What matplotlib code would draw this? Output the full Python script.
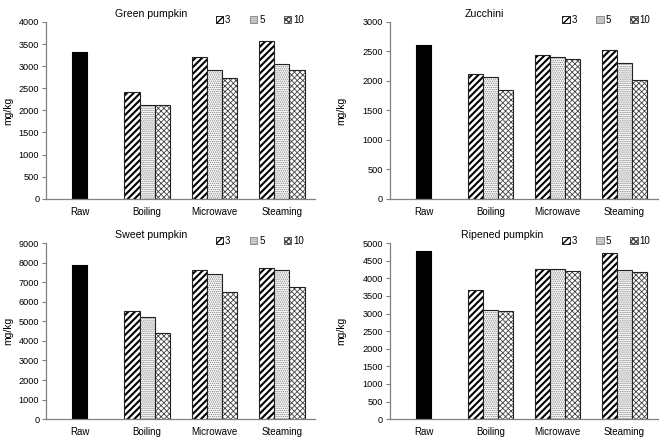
import numpy as np
import matplotlib
matplotlib.use("Agg")
import matplotlib.pyplot as plt

plt.rcParams["font.family"] = ["Liberation Sans", "DejaVu Sans"]

# ── data (mg/kg) ──
methods = ["Raw", "Boiling", "Microwave", "Steaming"]
times = ["3", "5", "10"]

green_raw = 3310
green_3 = [2415, 3215, 3560]
green_5 = [2130, 2915, 3055]
green_10 = [2130, 2730, 2920]

zucchini_raw = 2600
zucchini_3 = [2110, 2435, 2530]
zucchini_5 = [2065, 2400, 2300]
zucchini_10 = [1845, 2375, 2020]

sweet_raw = 7860
sweet_3 = [5520, 7650, 7720]
sweet_5 = [5200, 7410, 7650]
sweet_10 = [4400, 6490, 6765]

ripened_raw = 4770
ripened_3 = [3665, 4260, 4715]
ripened_5 = [3095, 4270, 4250]
ripened_10 = [3080, 4195, 4185]

panels = [
    ("Green pumpkin", green_raw, green_3, green_5, green_10, 4000, 500),
    ("Zucchini", zucchini_raw, zucchini_3, zucchini_5, zucchini_10, 3000, 500),
    ("Sweet pumpkin", sweet_raw, sweet_3, sweet_5, sweet_10, 9000, 1000),
    ("Ripened pumpkin", ripened_raw, ripened_3, ripened_5, ripened_10, 5000, 500),
]

# axes boxes in figure fraction [left, bottom, width, height]
boxes = [
    [0.070, 0.546, 0.408, 0.404],
    [0.591, 0.546, 0.406, 0.404],
    [0.070, 0.043, 0.408, 0.402],
    [0.591, 0.043, 0.406, 0.402],
]
title_x = [0.39, 0.35, 0.39, 0.42]
leg_x = [0.975, 0.99, 0.975, 0.99]

hatches = ["/////", "........", "xxxxxx"]
hatch_cols = ["black", "#808080", "#444444"]
hatch_lw = [1.5, 0.7, 0.6]
bw = 0.225

fig = plt.figure(figsize=(6.6, 4.38), dpi=100)

for i, (name, raw, s3, s5, s10, ymax, step) in enumerate(panels):
    ax = fig.add_axes(boxes[i])
    x = np.arange(1, len(methods))
    ax.bar(0, raw, width=bw, color="black", edgecolor="black", linewidth=0.8)
    handles = []
    for j, vals in enumerate([s3, s5, s10]):
        pos = x + (j - 1) * bw
        with plt.rc_context({"hatch.linewidth": hatch_lw[j]}):
            ax.bar(pos, vals, width=bw, color="white", edgecolor=hatch_cols[j],
                   hatch=hatches[j], linewidth=0)
            ax.bar(pos, vals, width=bw, fill=False, edgecolor="#222222",
                   linewidth=0.8)
            h = plt.Rectangle((0, 0), 1, 1, facecolor="white",
                              edgecolor=hatch_cols[j], hatch=hatches[j],
                              linewidth=0.6, label=times[j])
        handles.append(h)

    ax.set_xlim(-0.5, 3.5)
    ax.set_ylim(0, ymax)
    ax.set_yticks(np.arange(0, ymax + 1, step))
    ax.set_xticks(range(len(methods)))
    ax.set_xticklabels(methods, fontsize=7)
    ax.tick_params(axis="x", length=0, pad=6)
    ax.tick_params(axis="y", labelsize=6.6, length=3, width=0.8, color="#808080", pad=2)
    for s in ["top", "right"]:
        ax.spines[s].set_visible(False)
    for s in ["left", "bottom"]:
        ax.spines[s].set_color("#808080")
        ax.spines[s].set_linewidth(0.9)
    ax.set_ylabel("mg/kg", fontsize=7.5, labelpad=4 if i % 2 == 0 else 12)
    ax.text(title_x[i], 1.045, name, transform=ax.transAxes, ha="center",
            va="center", fontsize=7.6)
    ax.legend(handles=handles, ncol=3, loc="center right",
              bbox_to_anchor=(leg_x[i], 1.01), frameon=False, fontsize=7,
              handlelength=0.75, handleheight=0.75, handletextpad=0.2,
              columnspacing=2.0, borderpad=0)

fig.savefig("out.png", dpi=100)
